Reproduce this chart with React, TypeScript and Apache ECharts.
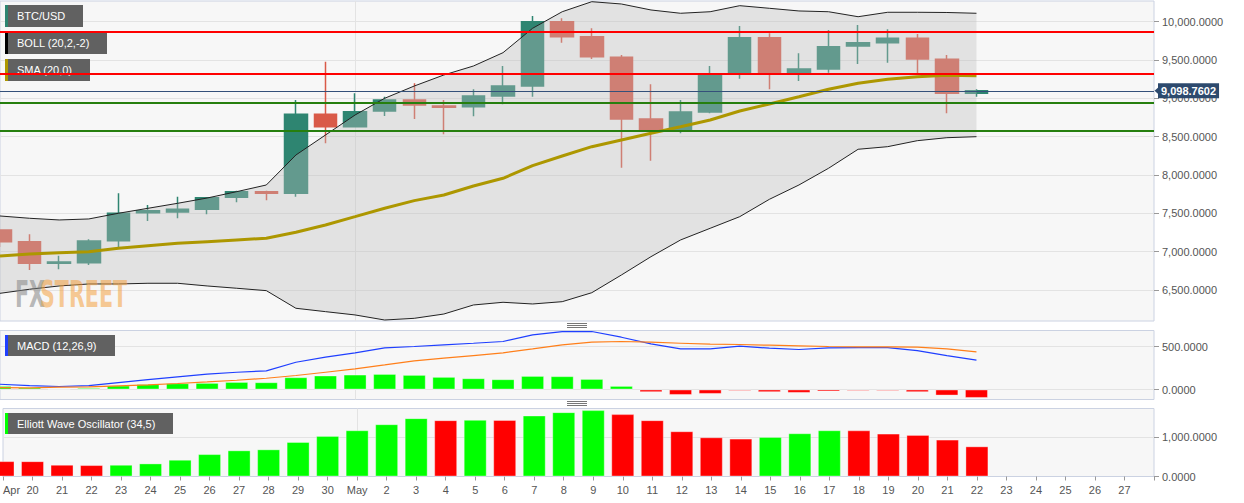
import React, { useEffect, useRef } from 'react';
import * as echarts from 'echarts';

const dates = ['Apr 19','Apr 20','Apr 21','Apr 22','Apr 23','Apr 24','Apr 25','Apr 26','Apr 27','Apr 28','Apr 29','Apr 30',
  'May 1','May 2','May 3','May 4','May 5','May 6','May 7','May 8','May 9','May 10','May 11','May 12','May 13','May 14',
  'May 15','May 16','May 17','May 18','May 19','May 20','May 21','May 22','May 23','May 24','May 25','May 26','May 27','May 28'];

// [open, close, low, high]
const candles = [
  [7283, 7131, 7060, 7290], [7130, 6849, 6761, 7227], [6849, 6865, 6771, 6948], [6857, 7140, 6826, 7162],
  [7143, 7501, 7057, 7762], [7509, 7535, 7400, 7609], [7518, 7553, 7436, 7717], [7553, 7704, 7488, 7712],
  [7710, 7783, 7644, 7796], [7783, 7762, 7670, 7796], [7762, 8792, 7717, 8979], [8792, 8630, 8414, 9478],
  [8630, 8826, 8620, 9066], [8835, 8979, 8770, 9022], [8979, 8914, 8731, 9197], [8900, 8884, 8531, 8979],
  [8891, 9031, 8766, 9118], [9031, 9161, 8923, 9422], [9161, 10000, 9022, 10074], [10000, 9804, 9726, 10044],
  [9804, 9543, 9514, 9914], [9536, 8731, 8096, 9566], [8731, 8587, 8187, 9184], [8587, 8822, 8544, 8979],
  [8822, 9309, 8805, 9422], [9327, 9791, 9257, 9944], [9791, 9327, 9118, 9849], [9327, 9383, 9227, 9588],
  [9383, 9674, 9335, 9892], [9683, 9726, 9448, 9957], [9726, 9783, 9465, 9901], [9783, 9513, 9327, 9840],
  [9510, 9066, 8805, 9566], [9066, 9099, 9022, 9118],
];

const bollUpper = [7466, 7436, 7414, 7427, 7501, 7566, 7631, 7700, 7783, 7870, 8261, 8522, 8783, 9001, 9161, 9305,
  9422, 9596, 9914, 10130, 10261, 10231, 10153, 10110, 10130, 10209, 10175, 10140, 10130, 10065, 10123, 10123, 10120, 10110];
const bollLower = [6457, 6510, 6553, 6579, 6579, 6588, 6588, 6553, 6523, 6492, 6262, 6218, 6175, 6109, 6131, 6187,
  6305, 6340, 6318, 6348, 6465, 6696, 6935, 7153, 7305, 7457, 7683, 7870, 8088, 8336, 8370, 8448, 8487, 8500];
const sma20 = [6944, 6970, 6987, 7000, 7044, 7078, 7109, 7131, 7153, 7175, 7253, 7349, 7457, 7566, 7666, 7740,
  7857, 7957, 8122, 8248, 8370, 8457, 8544, 8630, 8718, 8835, 8927, 9022, 9118, 9197, 9249, 9283, 9301, 9296];

const macdLine = [61, 46, 35, 46, 81, 116, 147, 178, 201, 216, 317, 376, 426, 484, 500, 519, 538, 558, 635, 674,
  674, 608, 530, 472, 472, 504, 480, 465, 483, 488, 488, 453, 395, 341];
const signalLine = [23, 19, 27, 30, 42, 53, 70, 88, 108, 131, 163, 201, 240, 286, 333, 364, 395, 426, 472, 519,
  550, 558, 550, 538, 527, 523, 515, 507, 500, 496, 496, 492, 472, 437];
const macdHist = [42, 23, 7, 19, 46, 62, 73, 77, 88, 85, 143, 163, 174, 181, 170, 147, 131, 120, 158, 155,
  123, 42, -31, -63, -51, -16, -31, -39, -23, -16, -16, -31, -70, -98];

const ewo = [389, 388, 297, 289, 297, 331, 424, 567, 662, 687, 873, 1026, 1170, 1323, 1476, 1425, 1433, 1430,
  1543, 1628, 1679, 1578, 1425, 1145, 992, 959, 1000, 1094, 1170, 1168, 1086, 1051, 934, 763];

const priceTicks = [6500, 7000, 7500, 8000, 8500, 9000, 9500, 10000];
const macdTicks = [0, 500];
const ewoTicks = [0, 1000];
const resistanceLevels = [9866, 9322];
const supportLevels = [8940, 8575];
const lastPrice = 9098.7602;

const UP = '#2e8571';
const DOWN = '#d95a48';
const FONT = '"Liberation Sans", Arial, sans-serif';
const BORDER = '#cbd2e2';
const SPLIT = '#e3e3e3';
const LABEL = '#555';
const PRICE_BG = '#2d4a6e';

const fmt4 = (v: number) => v.toLocaleString('en-US', { minimumFractionDigits: 4, maximumFractionDigits: 4 });

function xAxis(gridIndex: number, showLabels: boolean) {
  return {
    type: 'category', gridIndex, data: dates, boundaryGap: false,
    axisLine: { show: showLabels, lineStyle: { color: BORDER } },
    axisTick: { show: showLabels, interval: 0, length: 4, lineStyle: { color: '#999' } },
    axisLabel: {
      show: showLabels, interval: (i: number) => i < dates.length - 1, alignMinLabel: 'left',
      color: LABEL, fontSize: 11, fontFamily: FONT, margin: 8,
      formatter: (v: string, i: number) => {
        const [m, d] = v.split(' ');
        return d === '1' || i === 0 ? m : d;
      },
    },
    splitLine: { show: true, interval: (i: number) => dates[i].endsWith(' 1'), lineStyle: { color: SPLIT } },
  };
}

function yAxis(gridIndex: number, min: number, max: number, ticks: number[]) {
  return {
    type: 'value', gridIndex, position: 'right', min, max,
    axisLine: { show: false },
    axisTick: { show: true, length: 5, customValues: ticks, lineStyle: { color: '#999' } },
    axisLabel: { show: true, customValues: ticks, formatter: fmt4, color: LABEL, fontSize: 11, fontFamily: FONT, margin: 8 },
    splitLine: { show: true, lineStyle: { color: SPLIT } },
  };
}

function labelBox(x: number, y: number, w: number, h: number, strip: string, text: string) {
  return {
    type: 'group', x, y, z: 1,
    children: [
      { type: 'rect', shape: { x: 0, y: 0, width: w, height: h }, style: { fill: '#616161' }, z: 1 },
      { type: 'rect', shape: { x: 0, y: 0, width: 3, height: h }, style: { fill: strip }, z: 1 },
      { type: 'text', x: 12, y: h / 2, z: 1, style: { text, fill: '#fff', font: `11px ${FONT}`, verticalAlign: 'middle' } },
    ],
  };
}

function handle(cx: number, y: number) {
  return [0, 2, 4].map((d) => ({
    type: 'line', z: 1, shape: { x1: cx - 10, y1: y + d + 0.5, x2: cx + 10, y2: y + d + 0.5 },
    style: { stroke: '#777', lineWidth: 1 },
  }));
}

export default function App() {
  const ref = useRef<HTMLDivElement>(null);
  useEffect(() => {
    if (!ref.current) return;
    const chart = echarts.init(ref.current, undefined, { renderer: 'svg' });
    const bandWidth = bollUpper.map((u, i) => u - bollLower[i]);
    const lineMark = (v: number, color: string) => ({ yAxis: v, lineStyle: { color, width: 2, type: 'solid' }, label: { show: false } });
    const option = {
      animation: false,
      backgroundColor: '#fff',
      textStyle: { fontFamily: FONT },
      grid: [
        { left: 0, top: 1, width: 1154, height: 320, show: true, backgroundColor: '#f7f7f7', borderColor: BORDER, borderWidth: 1 },
        { left: 0, top: 330.5, width: 1154, height: 69, show: true, backgroundColor: '#f7f7f7', borderColor: BORDER, borderWidth: 1 },
        { left: 0, top: 408.5, width: 1154, height: 68, show: true, backgroundColor: '#f7f7f7', borderColor: BORDER, borderWidth: 1 },
      ],
      xAxis: [xAxis(0, false), xAxis(1, false), xAxis(2, true)],
      yAxis: [yAxis(0, 6096, 10270, priceTicks), yAxis(1, -116, 686, macdTicks), yAxis(2, 0, 1720, ewoTicks)],
      series: [
        {
          type: 'candlestick', xAxisIndex: 0, yAxisIndex: 0, data: candles, barWidth: 23, z: 2,
          itemStyle: { color: UP, color0: DOWN, borderColor: UP, borderColor0: DOWN, borderWidth: 1.5 },
        },
        {
          type: 'line', xAxisIndex: 0, yAxisIndex: 0, data: bollLower, stack: 'boll', symbol: 'none', z: 3,
          lineStyle: { color: '#222', width: 1 },
        },
        {
          type: 'line', xAxisIndex: 0, yAxisIndex: 0, data: bandWidth, stack: 'boll', symbol: 'none', z: 3,
          lineStyle: { color: '#222', width: 1 }, areaStyle: { color: 'rgba(190,190,190,0.53)' },
        },
        {
          type: 'line', xAxisIndex: 0, yAxisIndex: 0, data: sma20, symbol: 'none', z: 4,
          lineStyle: { color: '#ad9700', width: 3 },
          markLine: {
            symbol: ['none', 'none'], silent: true, animation: false,
            data: [
              ...resistanceLevels.map((v) => lineMark(v, '#ff0000')),
              ...supportLevels.map((v) => lineMark(v, '#267f0e')),
              {
                yAxis: lastPrice, lineStyle: { color: '#34507a', width: 1, type: 'solid' },
                label: {
                  show: true, position: 'end', distance: 4, formatter: fmt4(lastPrice), color: '#fff',
                  backgroundColor: PRICE_BG, fontWeight: 'bold', fontSize: 11, fontFamily: FONT, padding: [2, 3, 2, 3],
                },
              },
            ],
          },
        },
        {
          type: 'bar', xAxisIndex: 1, yAxisIndex: 1, barWidth: 23, z: 2,
          data: macdHist.map((v) => ({ value: v, itemStyle: { color: v >= 0 ? '#00ff00' : '#ff0000', borderColor: 'rgba(255,255,255,0.35)', borderWidth: 1 } })),
        },
        { type: 'line', xAxisIndex: 1, yAxisIndex: 1, data: macdLine, symbol: 'none', z: 3, lineStyle: { color: '#1f3fff', width: 1.2 } },
        { type: 'line', xAxisIndex: 1, yAxisIndex: 1, data: signalLine, symbol: 'none', z: 3, lineStyle: { color: '#ff7f1a', width: 1.2 } },
        {
          type: 'bar', xAxisIndex: 2, yAxisIndex: 2, barWidth: 23, z: 2,
          data: ewo.map((v, i) => ({
            value: v,
            itemStyle: { color: i > 0 && v > ewo[i - 1] ? '#00ff00' : '#ff0000', borderColor: 'rgba(255,255,255,0.35)', borderWidth: 1 },
          })),
        },
      ],
      graphic: [
        labelBox(5, 5, 78, 22, UP, 'BTC/USD'),
        labelBox(5, 32, 102, 22, '#000', 'BOLL (20,2,-2)'),
        labelBox(5, 59, 85, 22, '#ad9700', 'SMA (20,0)'),
        labelBox(5, 335, 110, 21, '#1f3fff', 'MACD (12,26,9)'),
        labelBox(5, 413, 168, 21, '#00ff00', 'Elliott Wave Oscillator (34,5)'),
        {
          type: 'text', x: 15, y: 275, z: 10, scaleX: 0.62,
          style: { text: 'FX', fill: 'rgba(130,130,130,0.55)', font: `bold 37px "DejaVu Sans Condensed", "DejaVu Sans", sans-serif`, verticalAlign: 'top' },
        },
        {
          type: 'text', x: 40, y: 275, z: 10, scaleX: 0.62,
          style: { text: 'STREET', fill: 'rgba(245,160,60,0.55)', font: `bold 37px "DejaVu Sans Condensed", "DejaVu Sans", sans-serif`, verticalAlign: 'top' },
        },
        {
          type: 'polygon', z: 10,
          shape: { points: [[1154.5, 90.8], [1158.5, 87.3], [1158.5, 94.3]] },
          style: { fill: PRICE_BG },
        },
        ...handle(577, 323),
        ...handle(577, 401),
      ],
    };
    chart.setOption(option as any);
    return () => chart.dispose();
  }, []);
  return <div ref={ref} style={{ position: 'absolute', left: 0, top: 0, width: 1244, height: 503, background: '#fff' }} />;
}
